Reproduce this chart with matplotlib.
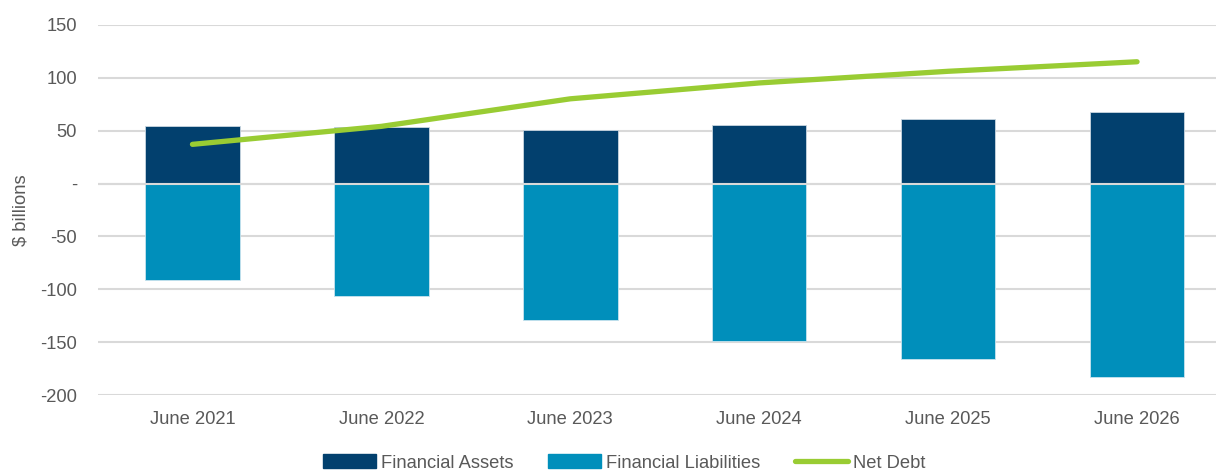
import matplotlib.pyplot as plt
from matplotlib.ticker import FuncFormatter
from matplotlib.lines import Line2D
from matplotlib.patches import Patch

plt.rcParams['font.family'] = ['Liberation Sans', 'DejaVu Sans']

years = ['June 2021', 'June 2022', 'June 2023', 'June 2024', 'June 2025', 'June 2026']
assets = [54, 53, 51, 55, 61, 68]
liabilities = [-91, -106, -129, -149, -166, -183]
net_debt = [37, 54, 80, 95, 106, 115]

navy = '#02406E'
blue = '#008FBB'
green = '#99CC33'
grey = '#595959'

fig = plt.figure(figsize=(12.16, 4.71), dpi=100)
ax = fig.add_axes([98 / 1216, 75.7 / 471, 1133.5 / 1216, 370.6 / 471])

x = range(len(years))
ax.bar(x, assets, width=0.5, color=navy, edgecolor='#c9d6e0', linewidth=0.6, zorder=2)
ax.bar(x, liabilities, width=0.5, color=blue, edgecolor='#c9e3ee', linewidth=0.6, zorder=2)
ax.axhline(0, color='#d9d9d9', lw=1.5, zorder=3)
ax.plot(x, net_debt, color=green, lw=3.8, solid_capstyle='round', zorder=4)

ax.set_xlim(-0.5, 5.5)
ax.set_ylim(-200, 150)
ax.set_yticks(range(-200, 151, 50))
ax.yaxis.set_major_formatter(FuncFormatter(lambda v, p: '-' if v == 0 else f'{v:.0f}'))
ax.set_xticks(list(x))
ax.set_xticklabels(years)
ax.grid(axis='y', color='#d9d9d9', lw=1.5, zorder=0)
ax.set_axisbelow(True)
for s in ax.spines.values():
    s.set_visible(False)
ax.tick_params(length=0, labelsize=13.2, colors=grey)
ax.tick_params(axis='y', pad=15)
ax.tick_params(axis='x', pad=11)
ax.set_ylabel('$ billions', fontsize=13.2, color=grey)
ax.yaxis.set_label_coords(-68 / 1133.5, 0.5)

handles = [Patch(color=navy), Patch(color=blue),
           Line2D([0], [0], color=green, lw=3.8, solid_capstyle='round')]
fig.legend(handles, ['Financial Assets', 'Financial Liabilities', 'Net Debt'],
           loc='center', bbox_to_anchor=(624 / 1216, 1 - 463 / 471), ncol=3,
           frameon=False, fontsize=13.2, labelcolor=grey, handlelength=2.9,
           handleheight=0.8, handletextpad=0.25, columnspacing=1.9)

fig.savefig('out.png', dpi=100)
